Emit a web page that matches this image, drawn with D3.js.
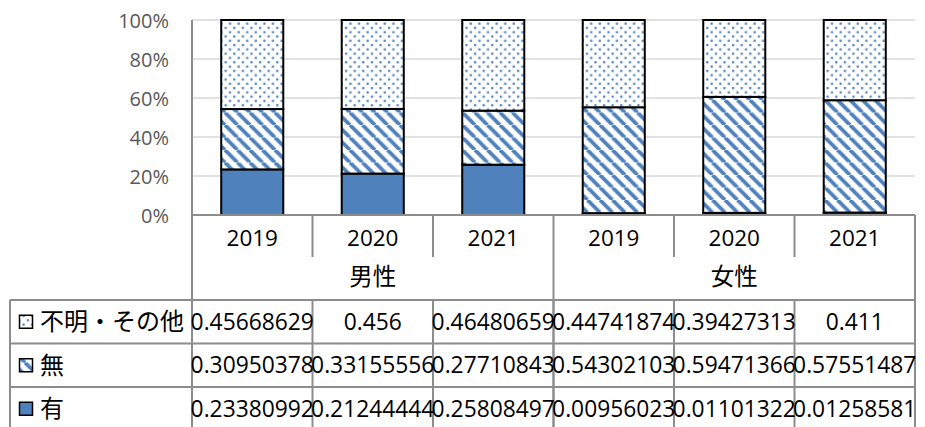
<!DOCTYPE html>
<html>
<head>
<meta charset="utf-8">
<script src="https://cdn.jsdelivr.net/npm/d3@7"></script>
<style>
  html, body { margin: 0; padding: 0; background: #fff; }
  svg { display: block; }
</style>
</head>
<body>
<svg id="chart" width="925" height="427"></svg>
<script>
// Categories: year within each sex group
const groups = ["男性", "女性"];
const years = ["2019", "2020", "2021"];

// Series (bottom to top of each stacked bar)
const seriesNames = ["有", "無", "不明・その他"];
const valuesYes = [0.23380992, 0.21244444, 0.25808497, 0.00956023, 0.01101322, 0.01258581];
const valuesNo = [0.30950378, 0.33155556, 0.27710843, 0.54302103, 0.59471366, 0.57551487];
const valuesOther = [0.45668629, 0.456, 0.46480659, 0.44741874, 0.39427313, 0.411];

const yTicks = [0, 0.2, 0.4, 0.6, 0.8, 1];

const svg = d3.select("#chart");
const plotLeft = 192, plotRight = 915, plotTop = 20, plotBottom = 215;
const catBottom = 300, rowH = 43.5, tableLeft = 10;

const lineGray = "#8c8c8c";
const gridGray = "#d9d9d9";
const blue = "#4f81bd";
const latin = "'Open Sans', 'Liberation Sans', sans-serif";
const cjk = "'Noto Sans CJK JP', 'Open Sans', sans-serif";

// Patterns for the stacked segments
const defs = svg.append("defs");
const dots = defs.append("pattern").attr("id", "pat-dots")
  .attr("patternUnits", "userSpaceOnUse").attr("width", 8.6).attr("height", 8.6);
dots.append("rect").attr("width", 8.6).attr("height", 8.6).attr("fill", "#fff");
dots.append("rect").attr("x", 1).attr("y", 1).attr("width", 2.2).attr("height", 2.2).attr("fill", blue);
dots.append("rect").attr("x", 5.3).attr("y", 5.3).attr("width", 2.2).attr("height", 2.2).attr("fill", blue);

const stripes = defs.append("pattern").attr("id", "pat-stripes")
  .attr("patternUnits", "userSpaceOnUse").attr("width", 12.5).attr("height", 12.5);
stripes.append("rect").attr("width", 12.5).attr("height", 12.5).attr("fill", "#fff");
[-12.5, 0, 12.5].forEach(o => {
  stripes.append("line")
    .attr("x1", o).attr("y1", 0).attr("x2", o + 12.5).attr("y2", 12.5)
    .attr("stroke", blue).attr("stroke-width", 3.8);
});

const fills = ["#4f81bd", "url(#pat-stripes)", "url(#pat-dots)"];

// Combined categories
const cats = [];
groups.forEach(g => years.forEach(y => cats.push({ group: g, year: y, key: g + "-" + y })));

const x = d3.scaleBand()
  .domain(cats.map(c => c.key))
  .range([plotLeft, plotRight])
  .paddingInner(0.485)
  .paddingOuter(0.2425);
const step = x.step();
const cellLeft = k => x(k) - x.paddingOuter() * step;

const y = d3.scaleLinear().domain([0, 1]).range([plotBottom, plotTop]);

// Gridlines
svg.append("g").selectAll("line").data(yTicks.slice(1)).join("line")
  .attr("x1", plotLeft).attr("x2", plotRight)
  .attr("y1", d => y(d)).attr("y2", d => y(d))
  .attr("stroke", gridGray).attr("stroke-width", 1.5);

// Y axis labels
const yAxis = d3.axisLeft(y).tickValues(yTicks).tickFormat(d3.format(".0%")).tickSize(0).tickPadding(23);
const yg = svg.append("g").attr("transform", `translate(${plotLeft},0)`).call(yAxis);
yg.select(".domain").remove();
yg.selectAll("text")
  .attr("fill", "#595959")
  .attr("font-family", latin)
  .attr("font-size", 20)
  .attr("dy", "0.35em");

// Stacked data (100% stacked, each column normalised to its total)
const rows = cats.map((c, i) => {
  const t = valuesYes[i] + valuesNo[i] + valuesOther[i];
  return { key: c.key, s0: valuesYes[i] / t, s1: valuesNo[i] / t, s2: valuesOther[i] / t };
});
const stacked = d3.stack().keys(["s0", "s1", "s2"])(rows);

svg.append("g").selectAll("g").data(stacked).join("g")
  .attr("fill", (d, i) => fills[i])
  .selectAll("rect").data(d => d).join("rect")
  .attr("x", d => x(d.data.key))
  .attr("width", x.bandwidth())
  .attr("y", d => y(d[1]))
  .attr("height", d => y(d[0]) - y(d[1]))
  .attr("stroke", "#000")
  .attr("stroke-width", 2);

// Category axis and data table lines
const lines = svg.append("g").attr("stroke", lineGray).attr("stroke-width", 2).attr("fill", "none");
lines.append("line").attr("x1", plotLeft).attr("x2", plotRight).attr("y1", plotBottom).attr("y2", plotBottom);
lines.append("line").attr("x1", plotLeft).attr("x2", plotLeft).attr("y1", plotTop).attr("y2", 427);
cats.forEach((c, i) => {
  if (i === 0) return;
  const xx = cellLeft(c.key);
  const full = years.indexOf(c.year) === 0;
  lines.append("line").attr("x1", xx).attr("x2", xx)
    .attr("y1", plotBottom).attr("y2", full ? 427 : 257);
});
lines.append("line").attr("x1", plotRight).attr("x2", plotRight).attr("y1", plotBottom).attr("y2", 427);
cats.forEach((c, i) => {
  if (i === 0) return;
  const xx = cellLeft(c.key);
  lines.append("line").attr("x1", xx).attr("x2", xx).attr("y1", catBottom).attr("y2", 427);
});
lines.append("line").attr("x1", tableLeft).attr("x2", tableLeft).attr("y1", catBottom).attr("y2", 427);
[0, 1, 2].forEach(r => {
  lines.append("line").attr("x1", tableLeft).attr("x2", plotRight)
    .attr("y1", catBottom + r * rowH).attr("y2", catBottom + r * rowH);
});

// Year labels
svg.append("g").selectAll("text").data(cats).join("text")
  .attr("x", d => x(d.key) + x.bandwidth() / 2)
  .attr("y", 238)
  .attr("dy", "0.35em")
  .attr("text-anchor", "middle")
  .attr("font-family", latin)
  .attr("font-size", 22.5)
  .attr("fill", "#000")
  .text(d => d.year);

// Group labels
svg.append("g").selectAll("text").data(groups).join("text")
  .attr("x", g => {
    const ks = cats.filter(c => c.group === g).map(c => c.key);
    return (cellLeft(ks[0]) + cellLeft(ks[ks.length - 1]) + step) / 2;
  })
  .attr("y", 277)
  .attr("dy", "0.35em")
  .attr("text-anchor", "middle")
  .attr("font-family", cjk)
  .attr("font-size", 23.5)
  .attr("fill", "#000")
  .text(g => g);

// Data table rows (top to bottom: 不明・その他, 無, 有)
const tableRows = [
  { name: seriesNames[2], fill: fills[2], vals: valuesOther },
  { name: seriesNames[1], fill: fills[1], vals: valuesNo },
  { name: seriesNames[0], fill: fills[0], vals: valuesYes }
];
tableRows.forEach((r, ri) => {
  const cy = catBottom + ri * rowH + rowH / 2;
  svg.append("rect")
    .attr("x", 19.5).attr("y", cy - 6.5).attr("width", 13).attr("height", 13)
    .attr("fill", r.fill).attr("stroke", "#000").attr("stroke-width", 1.5);
  svg.append("text")
    .attr("x", 40).attr("y", cy).attr("dy", "0.36em")
    .attr("font-family", cjk).attr("font-size", 24).attr("fill", "#000")
    .text(r.name);
  svg.append("g").selectAll("text").data(r.vals).join("text")
    .attr("x", (d, i) => x(cats[i].key) + x.bandwidth() / 2)
    .attr("y", cy).attr("dy", "0.36em")
    .attr("text-anchor", "middle")
    .attr("font-family", latin).attr("font-size", 22.8).attr("fill", "#000")
    .text(d => String(d));
});
</script>
</body>
</html>
